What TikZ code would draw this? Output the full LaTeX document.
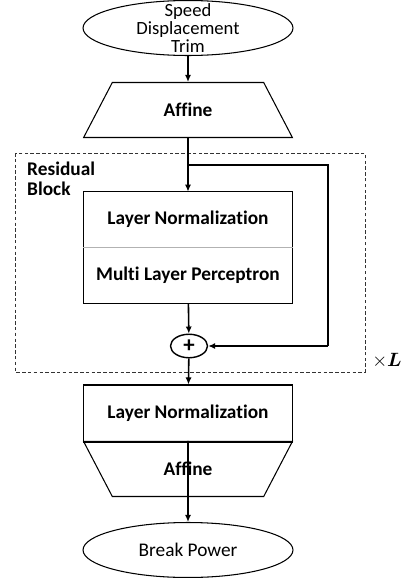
\documentclass[tikz,border=0pt]{standalone}
\usepackage{fontspec}
\setmainfont{Carlito}[Ligatures=NoCommon]
\usepackage{amsmath}
\usetikzlibrary{shapes.geometric, arrows.meta}

\newcommand{\tamano}{\fontsize{11}{11.2}\selectfont}

\begin{document}
\begin{tikzpicture}[x=0.02cm, y=-0.02cm, font=\tamano]

	\tikzstyle{io}=[ellipse, draw, line width=0.6pt, minimum width=4.2cm, minimum height=1.1cm, inner sep=0pt]
	\tikzstyle{caja}=[rectangle, minimum width=4.18cm, inner sep=0pt, font=\tamano\bfseries]
	\tikzstyle{trap}=[trapezium, draw, line width=0.6pt, trapezium stretches=true, trapezium angle=56, minimum width=4.18cm, minimum height=1.1cm, inner sep=0pt, font=\tamano\bfseries]
	\tikzstyle{flecha}=[-{Latex[length=4pt, width=3.5pt]}, line width=0.9pt]

	\useasboundingbox (0, 0) rectangle (409, 578);

	\coordinate (c_in) at (188, 28); % ENTRADA
	\coordinate (c_aff_1) at (188, 110); % AFFINE 1
	\coordinate (c_ln_1) at (188, 219.5); % BLOQUE RESIDUAL
	\coordinate (c_mlp) at (188, 275); % BLOQUE RESIDUAL
	\coordinate (c_sum) at (189, 346); % SUMA
	\coordinate (c_ln_2) at (188, 413.5); % SALIDA
	\coordinate (c_aff_2) at (188, 469); % SALIDA
	\coordinate (c_out) at (188, 550); % SALIDA

	\coordinate (skip) at (188, 165);
	\coordinate (skip_r) at (328, 165);
	\coordinate (skip_b) at (328, 346);

	\node[io] (in) at (c_in) {};
	\node[align=center, inner sep=0pt, font=\fontsize{10.6}{10.2}\selectfont] (in_txt) at (c_in) {Speed\\Displacement\\Trim};
	\node[trap] (aff_1) at (c_aff_1) {Affine};

	\node[caja, minimum height=1.1cm] (ln_1) at (c_ln_1) {Layer Normalization};
	\node[caja, minimum height=1.12cm] (mlp) at (c_mlp) {Multi Layer Perceptron};
	\node[ellipse, draw, line width=0.8pt, minimum width=0.74cm, minimum height=0.47cm, inner sep=0pt, font=\fontsize{13}{13}\selectfont\bfseries] (sum) at (c_sum) {+};

	\node[caja, draw, line width=0.6pt, minimum height=1.14cm] (ln_2) at (c_ln_2) {Layer Normalization};
	\node[trap, shape border rotate=180] (aff_2) at (c_aff_2) {Affine};
	\node[io] (out) at (c_out) {Break Power};

	%%%%%%%%%%%%%%%%%%%%%%%%%%%%%%%%%
	%%%%%%% BLOQUE RESIDUAL %%%%%%%%
	\draw[line width=0.6pt] (ln_1.north west) rectangle (mlp.south east);
	\draw[gray!60, line width=0.4pt] (ln_1.south west) -- (ln_1.south east);
	\draw[dashed, dash pattern=on 2pt off 1.3pt, line width=0.5pt, black!80] (15, 153) rectangle (365, 372);
	\node[anchor=north west, align=left, font=\tamano\bfseries] (res) at (21, 156) {Residual\\Block};
	\node (veces) at (387, 361) {$\times\boldsymbol{L}$};
	%%%%%%%%%%%%%%%%%%%%%%%%%%%%%%%%%

	\draw[flecha] (in) -- (aff_1);
	\draw[flecha] (aff_1.south) -- (ln_1.north);
	\draw[line width=0.9pt] (skip) -- (skip_r) -- (skip_b);
	\draw[flecha] (skip_b) -- (sum);
	\draw[flecha] (mlp) -- (sum);
	\draw[flecha] (sum) -- (ln_2);
	\draw[flecha] (aff_2.north) -- (out);

\end{tikzpicture}
\end{document}
